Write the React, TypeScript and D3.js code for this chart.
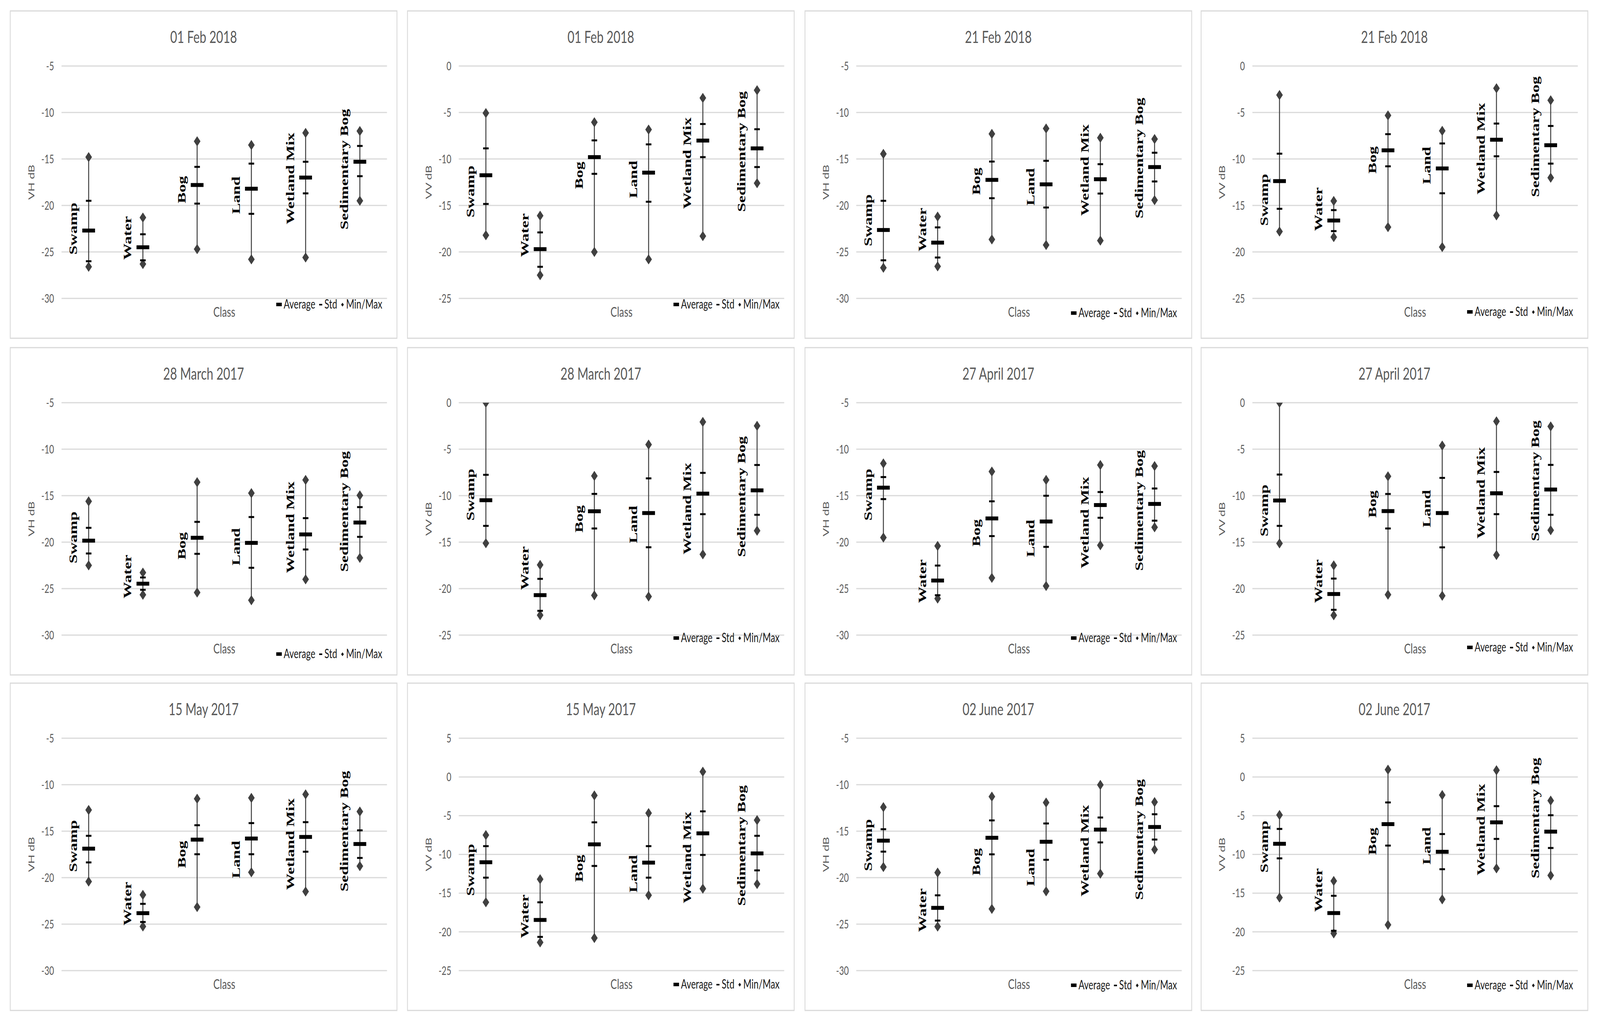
import React, { useEffect, useRef } from 'react';
import * as d3 from 'd3';

const CLASSES = ['Swamp', 'Water', 'Bog', 'Land', 'Wetland Mix', 'Sedimentary Bog'];

const DATES = [
  '01 Feb 2018', '01 Feb 2018', '21 Feb 2018', '21 Feb 2018',
  '28 March 2017', '28 March 2017', '27 April 2017', '27 April 2017',
  '15 May 2017', '15 May 2017', '02 June 2017', '02 June 2017',
];
const POLARISATIONS = ['VH', 'VV', 'VH', 'VV', 'VH', 'VV', 'VH', 'VV', 'VH', 'VV', 'VH', 'VV'];
const Y_MIN = [-30, -25, -30, -25, -30, -25, -30, -25, -30, -25, -30, -25];
const Y_MAX = [-5, 0, -5, 0, -5, 0, -5, 0, -5, 5, -5, 5];

// one row per panel, one value per class (dB)
const MAXIMUM = [
  [-14.8, -21.3, -13.1, -13.5, -12.2, -12.0],
  [-5.06, -16.1, -6.05, -6.84, -3.44, -2.6],
  [-14.45, -21.2, -12.3, -11.72, -12.72, -12.86],
  [-3.12, -14.52, -5.31, -6.98, -2.4, -3.69],
  [-15.61, -23.28, -13.55, -14.73, -13.31, -14.97],
  [0, -17.45, -7.88, -4.51, -2.07, -2.49],
  [-11.53, -20.41, -12.41, -13.31, -11.7, -11.82],
  [0, -17.5, -7.92, -4.61, -2.01, -2.55],
  [-12.72, -21.85, -11.51, -11.42, -11.04, -12.89],
  [-7.51, -13.2, -2.39, -4.67, 0.68, -5.58],
  [-12.42, -19.45, -11.28, -11.92, -10.02, -11.87],
  [-4.91, -13.43, 0.94, -2.34, 0.86, -3.06],
];
const STD_UPPER = [
  [-19.5, -23.1, -15.85, -15.5, -15.3, -13.6],
  [-8.86, -17.9, -8.0, -8.43, -6.24, -6.8],
  [-19.5, -22.36, -15.28, -15.2, -15.56, -14.33],
  [-9.43, -15.5, -7.33, -8.33, -6.19, -6.45],
  [-18.46, -23.8, -17.82, -17.3, -17.42, -16.23],
  [-7.76, -18.95, -9.81, -8.14, -7.55, -6.7],
  [-13.0, -22.52, -15.61, -15.01, -14.61, -14.23],
  [-7.73, -18.92, -9.82, -8.09, -7.45, -6.69],
  [-15.5, -22.82, -14.36, -14.13, -14.03, -14.91],
  [-8.93, -16.18, -5.86, -8.93, -4.44, -7.6],
  [-14.79, -21.9, -13.84, -14.17, -13.53, -13.18],
  [-6.71, -15.34, -3.29, -7.37, -3.77, -4.94],
];
const AVERAGE = [
  [-22.7, -24.5, -17.8, -18.2, -17.0, -15.3],
  [-11.75, -19.7, -9.8, -11.47, -8.02, -8.86],
  [-22.64, -24.0, -17.25, -17.73, -17.18, -15.87],
  [-12.38, -16.62, -9.07, -11.02, -7.93, -8.52],
  [-19.84, -24.47, -19.53, -20.08, -19.17, -17.89],
  [-10.49, -20.7, -11.68, -11.87, -9.78, -9.43],
  [-14.14, -24.13, -17.45, -17.78, -16.01, -15.89],
  [-10.52, -20.58, -11.66, -11.87, -9.74, -9.34],
  [-16.88, -23.82, -15.91, -15.79, -15.62, -16.38],
  [-11.01, -18.46, -8.7, -11.06, -7.28, -9.87],
  [-16.02, -23.25, -15.71, -16.14, -14.83, -14.55],
  [-8.63, -17.57, -6.09, -9.66, -5.86, -7.06],
];
const STD_LOWER = [
  [-26.0, -25.9, -19.8, -20.9, -18.7, -16.85],
  [-14.84, -21.6, -11.6, -14.6, -9.8, -10.87],
  [-25.9, -25.6, -19.22, -20.22, -18.72, -17.42],
  [-15.36, -17.76, -10.79, -13.69, -9.71, -10.5],
  [-21.22, -25.13, -21.26, -22.76, -20.79, -19.43],
  [-13.25, -22.39, -13.53, -15.55, -11.99, -12.06],
  [-15.37, -25.71, -19.35, -20.51, -17.38, -17.69],
  [-13.25, -22.28, -13.53, -15.56, -11.99, -12.06],
  [-18.36, -24.77, -17.48, -17.48, -17.21, -17.88],
  [-13.0, -20.65, -11.49, -13.0, -10.07, -12.06],
  [-17.2, -24.62, -17.49, -18.08, -16.21, -15.9],
  [-10.51, -19.86, -8.86, -11.91, -8.0, -9.17],
];
const MINIMUM = [
  [-26.6, -26.3, -24.7, -25.8, -25.6, -19.5],
  [-18.2, -22.5, -20.0, -20.8, -18.3, -12.6],
  [-26.7, -26.55, -23.66, -24.25, -23.78, -19.43],
  [-17.8, -18.4, -17.33, -19.48, -16.07, -12.02],
  [-22.5, -25.66, -25.42, -26.25, -24.0, -21.69],
  [-15.12, -22.86, -20.73, -20.85, -16.31, -13.77],
  [-19.51, -26.07, -23.84, -24.72, -20.34, -18.4],
  [-15.14, -22.87, -20.65, -20.77, -16.39, -13.72],
  [-20.42, -25.25, -23.16, -19.42, -21.49, -18.76],
  [-16.18, -21.36, -20.79, -15.27, -14.42, -13.82],
  [-18.86, -25.26, -23.36, -21.47, -19.57, -16.97],
  [-15.57, -20.2, -19.09, -15.8, -11.8, -12.71],
];

// where each class label sits (value at its centre), placed by hand in the original
const LABEL_AT = [
  [-22.5, -23.5, -18.3, -18.9, -17.1, -16.1],
  [-13.5, -18.2, -11.75, -12.2, -10.45, -9.2],
  [-21.6, -22.6, -17.4, -18.0, -16.2, -14.9],
  [-14.4, -15.4, -10.1, -10.7, -8.9, -7.6],
  [-19.5, -23.7, -20.4, -20.5, -18.4, -16.7],
  [-9.9, -17.8, -12.5, -13.1, -11.4, -10.1],
  [-14.9, -24.2, -19.0, -19.6, -17.9, -16.6],
  [-11.6, -19.2, -10.9, -11.4, -9.7, -8.4],
  [-16.6, -22.8, -17.5, -18.05, -16.4, -15.0],
  [-12.0, -18.0, -11.8, -12.5, -10.4, -8.85],
  [-16.5, -23.5, -18.3, -18.9, -17.1, -15.9],
  [-9.0, -14.6, -8.3, -8.9, -6.8, -5.3],
];

// legend baseline inside each panel (0 = no legend)
const LEGEND_Y = [762, 762, 784, 781, 795, 754, 754, 778, 0, 782, 784, 784];

const W = 5772;
const H = 2614;
const COL_X = [37, 1470, 2904, 4333];
const ROW_Y = [28, 890, 1749];
const PANEL_W = 1395;
const PANEL_H = 838;
const PLOT_L = 185;
const PLOT_R = 1359;
const PLOT_T = 141;
const PLOT_B = 736;

const SANS = 'Lato, "Open Sans", sans-serif';
const SERIF = '"Liberation Serif", "Times New Roman", serif';
const GREY = '#595959';
const BAR = '#404040';

const App: React.FC = () => {
  const svgRef = useRef<SVGSVGElement>(null);
  // the window may be narrower than the chart; stretch the drawing to the window
  const vw = (typeof window !== 'undefined' && window.innerWidth) || W;
  const vh = (typeof window !== 'undefined' && window.innerHeight) || H;

  useEffect(() => {
    document.body.style.margin = '0';
    document.body.style.overflow = 'hidden';
    if (!svgRef.current) return;
    const svg = d3.select(svgRef.current);
    svg.selectAll('*').remove();

    svg.append('rect').attr('width', W).attr('height', H).attr('fill', '#fff');

    DATES.forEach((date, i) => {
      const col = i % 4;
      const row = Math.floor(i / 4);
      const g = svg.append('g').attr('transform', `translate(${COL_X[col]},${ROW_Y[row]})`);

      g.append('rect')
        .attr('width', PANEL_W)
        .attr('height', PANEL_H)
        .attr('fill', '#fff')
        .attr('stroke', '#d9d9d9')
        .attr('stroke-width', 3);

      g.append('text')
        .attr('x', PANEL_W / 2)
        .attr('y', 82)
        .attr('text-anchor', 'middle')
        .attr('font-family', SANS)
        .attr('font-size', 43)
        .attr('fill', GREY)
        .text(date);

      const x = d3.scaleBand<string>().domain(CLASSES).range([PLOT_L, PLOT_R]);
      const y = d3.scaleLinear().domain([Y_MIN[i], Y_MAX[i]]).range([PLOT_B, PLOT_T]);
      const ticks = d3.range(Y_MIN[i], Y_MAX[i] + 0.01, 5);

      // gridlines + tick labels
      g.selectAll('line.grid')
        .data(ticks)
        .join('line')
        .attr('x1', PLOT_L)
        .attr('x2', PLOT_R)
        .attr('y1', d => y(d))
        .attr('y2', d => y(d))
        .attr('stroke', '#d9d9d9')
        .attr('stroke-width', 3);

      g.selectAll('text.tick')
        .data(ticks)
        .join('text')
        .attr('x', PLOT_L - 27)
        .attr('y', d => y(d))
        .attr('dy', '0.36em')
        .attr('text-anchor', 'end')
        .attr('font-family', SANS)
        .attr('font-size', 30)
        .attr('fill', GREY)
        .text(d => String(d));

      g.append('text')
        .attr('transform', `translate(76,${(PLOT_T + PLOT_B) / 2}) rotate(-90)`)
        .attr('text-anchor', 'middle')
        .attr('dy', '0.35em')
        .attr('font-family', SANS)
        .attr('font-size', 31)
        .attr('fill', GREY)
        .text(`${POLARISATIONS[i]} dB`);

      g.append('text')
        .attr('x', (PLOT_L + PLOT_R) / 2)
        .attr('y', 783)
        .attr('text-anchor', 'middle')
        .attr('font-family', SANS)
        .attr('font-size', 35)
        .attr('fill', GREY)
        .text('Class');

      const clipId = `plot-clip-${i}`;
      g.append('clipPath')
        .attr('id', clipId)
        .append('rect')
        .attr('x', PLOT_L)
        .attr('y', PLOT_T)
        .attr('width', PLOT_R - PLOT_L)
        .attr('height', PLOT_B - PLOT_T);

      const marks = g.append('g').attr('clip-path', `url(#${clipId})`);

      CLASSES.forEach((cls, j) => {
        const cx = (x(cls) ?? 0) + x.bandwidth() / 2;

        marks.append('line')
          .attr('x1', cx).attr('x2', cx)
          .attr('y1', y(MINIMUM[i][j]))
          .attr('y2', y(MAXIMUM[i][j]))
          .attr('stroke', BAR)
          .attr('stroke-width', 3.5);

        [MINIMUM[i][j], MAXIMUM[i][j]].forEach(v => {
          const yy = y(v);
          marks.append('path')
            .attr('d', `M ${cx} ${yy - 13} L ${cx + 12} ${yy} L ${cx} ${yy + 13} L ${cx - 12} ${yy} Z`)
            .attr('fill', BAR);
        });

        [STD_LOWER[i][j], STD_UPPER[i][j]].forEach(v => {
          marks.append('rect')
            .attr('x', cx - 10)
            .attr('y', y(v) - 2.5)
            .attr('width', 20)
            .attr('height', 5)
            .attr('fill', '#000');
        });

        marks.append('rect')
          .attr('x', cx - 23)
          .attr('y', y(AVERAGE[i][j]) - 5)
          .attr('width', 46)
          .attr('height', 10)
          .attr('fill', '#000');

        g.append('text')
          .attr('transform', `translate(${cx - 42},${y(LABEL_AT[i][j])}) rotate(-90)`)
          .attr('text-anchor', 'middle')
          .attr('font-family', SERIF)
          .attr('font-weight', 'bold')
          .attr('font-size', 42)
          .attr('fill', '#000')
          .text(cls);
      });

      // legend, right aligned under the plot
      if (LEGEND_Y[i] > 0) {
        const lg = g.append('g');
        const base = 0;
        const mid = base - 10;
        let cur = 0;
        const addText = (s: string) => {
          const t = lg.append('text')
            .attr('x', cur)
            .attr('y', base)
            .attr('font-family', SANS)
            .attr('font-size', 32)
            .attr('fill', '#1a1a1a')
            .text(s);
          cur += (t.node() as SVGTextElement).getComputedTextLength();
        };
        lg.append('rect').attr('x', cur).attr('y', mid - 5).attr('width', 20).attr('height', 9).attr('fill', '#000');
        cur += 27;
        addText('Average');
        cur += 14;
        lg.append('rect').attr('x', cur).attr('y', mid - 2).attr('width', 11).attr('height', 4).attr('fill', '#000');
        cur += 19;
        addText('Std');
        cur += 14;
        lg.append('path')
          .attr('d', `M ${cur + 5} ${mid - 5} L ${cur + 10} ${mid} L ${cur + 5} ${mid + 5} L ${cur} ${mid} Z`)
          .attr('fill', '#1a1a1a');
        cur += 18;
        addText('Min/Max');
        lg.attr('transform', `translate(${1342 - cur},${LEGEND_Y[i]})`);
      }
    });
  }, []);

  return (
    <div style={{ position: 'absolute', left: 0, top: 0, width: vw, height: vh, background: '#fff', overflow: 'hidden' }}>
      <svg
        ref={svgRef}
        width={vw}
        height={vh}
        viewBox={`0 0 ${W} ${H}`}
        preserveAspectRatio="none"
        style={{ display: 'block' }}
      />
    </div>
  );
};

export default App;
